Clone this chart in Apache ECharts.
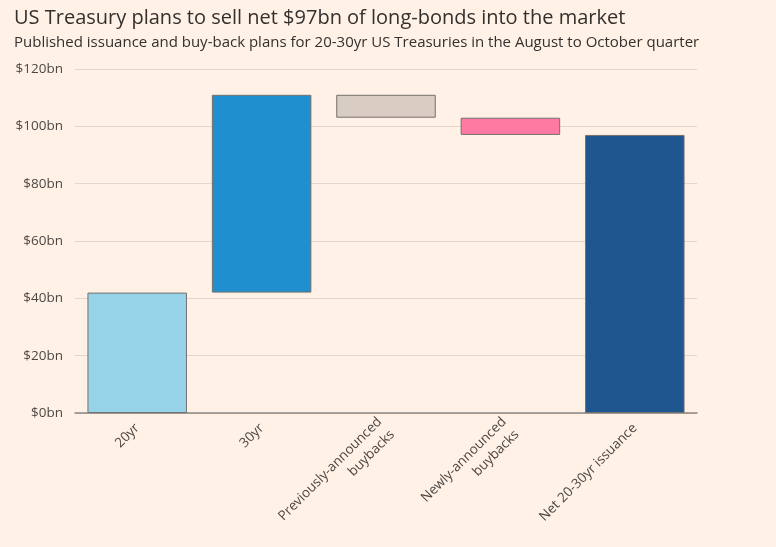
<!DOCTYPE html>
<html>
<head>
<meta charset="utf-8">
<script src="https://cdn.jsdelivr.net/npm/echarts@6/dist/echarts.min.js"></script>
<style>
html, body { margin: 0; padding: 0; background: #fff1e5; }
#chart { width: 776px; height: 547px; }
</style>
</head>
<body>
<div id="chart"></div>
<script>
// categories and waterfall bounds ($bn)
var categories = ['20yr', '30yr', 'Previously-announced\nbuybacks', 'Newly-announced\nbuybacks', 'Net 20-30yr issuance'];
var lows = [0, 42, 103, 97, 0];
var highs = [42, 111, 111, 103, 97];
var barColors = ['#96d3e8', '#1f8fcf', '#d9ccc2', '#ff7aa2', '#1f5690'];
var yTicks = [0, 20, 40, 60, 80, 100, 120];

var myChart = echarts.init(document.getElementById('chart'));

var helper = lows.slice();
var visible = highs.map(function (h, i) {
    return {
        value: h - lows[i],
        itemStyle: { color: barColors[i] }
    };
});

myChart.setOption({
    backgroundColor: '#fff1e5',
    textStyle: { fontFamily: 'Open Sans' },
    title: {
        text: 'US Treasury plans to sell net $97bn of long-bonds into the market',
        subtext: 'Published issuance and buy-back plans for 20-30yr US Treasuries in the August to October quarter',
        left: 9,
        top: 3,
        itemGap: 7,
        textStyle: { fontSize: 20, fontWeight: 'normal', color: '#33302e', fontFamily: 'Open Sans' },
        subtextStyle: { fontSize: 15, color: '#33302e', fontFamily: 'Open Sans' }
    },
    grid: { left: 75, right: 79, top: 69, bottom: 134 },
    xAxis: {
        type: 'category',
        data: categories,
        axisLine: { lineStyle: { color: '#8c8582', width: 1.5 } },
        axisTick: { alignWithLabel: true, length: 6, lineStyle: { color: '#b3aba6' } },
        axisLabel: {
            rotate: 45,
            color: '#4d4845',
            fontSize: 13.5,
            lineHeight: 18,
            margin: 13,
            align: 'right'
        }
    },
    yAxis: {
        type: 'value',
        min: yTicks[0],
        max: yTicks[yTicks.length - 1],
        interval: 20,
        axisLine: { show: false },
        axisTick: { show: false },
        splitLine: { lineStyle: { color: '#e3d6cb', width: 1 } },
        axisLabel: {
            color: '#4d4845',
            fontSize: 13.5,
            margin: 12,
            formatter: '${value}bn'
        }
    },
    series: [
        {
            type: 'bar',
            stack: 'w',
            data: helper,
            itemStyle: { color: 'transparent' },
            silent: true,
            barCategoryGap: '20%'
        },
        {
            type: 'bar',
            stack: 'w',
            data: visible,
            barCategoryGap: '20%',
            itemStyle: { borderColor: '#75706c', borderWidth: 1 }
        }
    ]
});
</script>
</body>
</html>
